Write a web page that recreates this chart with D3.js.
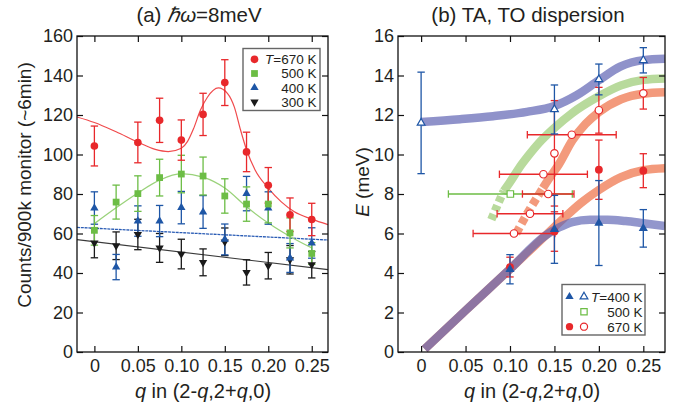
<!DOCTYPE html>
<html>
<head>
<meta charset="utf-8">
<script src="https://cdn.jsdelivr.net/npm/d3@7"></script>
<style>
  body { margin: 0; background: #fff; }
  svg text { font-family: "Liberation Sans", Arial, Helvetica, sans-serif; fill: #231f20; }
</style>
</head>
<body>
<svg id="chart" width="679" height="407"></svg>
<script>
/* global d3 */

// ---------- panel (a): constant energy scan, hw = 8 meV ----------
const qTicks = [0, 0.05, 0.10, 0.15, 0.20, 0.25];
const countTicks = [0, 20, 40, 60, 80, 100, 120, 140, 160];

const q670 = [0, 0.05, 0.075, 0.10, 0.125, 0.15, 0.175, 0.20, 0.225, 0.25];
const c670 = [104.3, 106.1, 117.3, 107.3, 120.3, 136.4, 101.3, 84.4, 69.5, 67.1];
const e670 = [10.1, 10.3, 11.2, 10.2, 10.7, 11.6, 10.0, 9.0, 8.5, 8.2];

const qAll = [0, 0.025, 0.05, 0.075, 0.10, 0.125, 0.15, 0.175, 0.20, 0.225, 0.25];
const c500 = [61.6, 75.9, 80.2, 88.3, 90.1, 89.1, 79.0, 74.9, 74.9, 60.3, 49.9];
const e500 = [7.5, 8.6, 9.0, 9.3, 9.5, 9.6, 8.7, 8.7, 9.5, 7.6, 5.5];
const c400 = [72.9, 43.0, 66.3, 66.3, 73.1, 70.9, 57.0, 80.2, 72.9, 47.6, 55.2];
const e400 = [8.2, 6.4, 7.7, 7.9, 8.2, 8.3, 7.8, 8.7, 8.2, 7.3, 7.7];
const c300 = [55.2, 53.8, 59.5, 52.7, 49.6, 45.4, 55.8, 40.3, 43.7, 46.7, 44.2];
const e300 = [7.5, 7.0, 7.7, 7.3, 7.5, 6.8, 7.0, 6.4, 6.7, 7.2, 6.7];

// fitted curves as [q, counts]
const fit670 = [[-0.02, 119], [0, 116.2], [0.025, 111.5], [0.05, 106.3], [0.07, 102.6], [0.085, 101.5],
  [0.1, 103.2], [0.107, 106.5], [0.114, 113], [0.122, 122.5], [0.13, 129], [0.1425, 133.7], [0.153, 131],
  [0.161, 124], [0.168, 112.6], [0.175, 102.4], [0.185, 92], [0.2, 83], [0.215, 76], [0.23, 71],
  [0.25, 67.3], [0.2687, 64.5]];
const fit500 = [[0, 65], [0.025, 73], [0.05, 80.5], [0.075, 87], [0.1, 90.3], [0.125, 88.5], [0.15, 83],
  [0.175, 73.5], [0.2, 65.3], [0.225, 58.5], [0.25, 52.7]];
const fit400 = [[-0.02, 63.1], [0.2687, 56.7]];
const fit300 = [[-0.02, 56.9], [0.2687, 41.7]];

// ---------- panel (b): TA / TO dispersion ----------
const eTicks = [0, 2, 4, 6, 8, 10, 12, 14, 16];

// constant-q points (vertical error bars)
const qTA400 = [0.10, 0.15, 0.20, 0.25];
const eTA400 = [4.19, 6.21, 6.53, 6.26];
const dTA400 = [0.74, 1.72, 2.15, 0.95];
const qTO400 = [0, 0.15, 0.20, 0.25];
const eTO400 = [11.6, 12.28, 13.8, 14.77];
const dTO400 = [2.57, 1.24, 0.78, 0.64];
const qTA670 = [0.10, 0.15, 0.20, 0.25];
const eTA670 = [4.3, 6.1, 9.23, 9.18];
const dTA670 = [0.5, 1.0, 1.5, 0.86];
const qTO670 = [0.15, 0.20, 0.25];
const eTO670 = [10.06, 12.24, 13.1];
const dTO670 = [2.67, 1.16, 0.8];

// constant-E points (horizontal error bars)
const qScan670 = [0.1045, 0.1225, 0.143, 0.1376, 0.1695];
const eScan670 = [6, 7, 8, 9, 11];
const dqScan670 = [0.046, 0.037, 0.029, 0.0495, 0.05];
const qScan500 = [0.1004];
const eScan500 = [8];
const dqScan500 = [0.0697];

// guide-to-the-eye bands, [q, E]
const bandTO400 = [[0, 11.65], [0.044, 11.79], [0.081, 11.94], [0.119, 12.16], [0.15, 12.46], [0.175, 13.0],
  [0.2, 13.76], [0.224, 14.45], [0.25, 14.78], [0.2744, 14.85]];
const bandTO500 = [[0.093, 8.15], [0.1, 8.6], [0.11, 9.3], [0.12, 9.9], [0.135, 10.7], [0.15, 11.35],
  [0.17, 12.1], [0.2, 12.95], [0.225, 13.5], [0.25, 13.78], [0.2744, 13.85]];
const bandTO500dash = [[0.079, 6.7], [0.086, 7.45], [0.093, 8.15]];
const bandTO670 = [[0.137, 8.3], [0.145, 8.85], [0.155, 9.5], [0.17, 10.7], [0.185, 11.55], [0.2, 12.15],
  [0.225, 12.8], [0.25, 13.08], [0.2744, 13.15]];
const bandTO670dash = [[0.107, 6.0], [0.118, 6.9], [0.128, 7.65], [0.137, 8.3]];
const bandTA670 = [[0.004, 0.15], [0.05, 2.1], [0.1, 4.2], [0.14, 5.9], [0.16, 6.75], [0.18, 7.55],
  [0.2, 8.2], [0.225, 8.85], [0.25, 9.2], [0.2744, 9.3]];
const bandTA400 = [[0.004, 0.15], [0.05, 2.1], [0.1, 4.2], [0.14, 5.9], [0.155, 6.3], [0.17, 6.58],
  [0.19, 6.7], [0.21, 6.7], [0.23, 6.63], [0.25, 6.52], [0.2744, 6.38]];

const RED = '#e8282b', GREEN = '#6cbd45', BLUE = '#1e56a6', BLACK = '#1a1a1a';

const svg = d3.select('#chart');

function fmtQ(d) {
  return d === 0 ? '0' : d.toFixed(2);
}

function drawFrame(box, x, y, xt, yt) {
  const g = svg.append('g');
  g.append('g').attr('transform', `translate(0,${box.b})`)
    .call(d3.axisBottom(x).tickValues(xt).tickSizeInner(-6).tickSizeOuter(0).tickPadding(7).tickFormat(fmtQ));
  g.append('g').attr('transform', `translate(0,${box.t})`)
    .call(d3.axisTop(x).tickValues(xt).tickSizeInner(-6).tickSizeOuter(0).tickFormat(''));
  g.append('g').attr('transform', `translate(${box.l},0)`)
    .call(d3.axisLeft(y).tickValues(yt).tickSizeInner(-6).tickSizeOuter(0).tickPadding(4));
  g.append('g').attr('transform', `translate(${box.r},0)`)
    .call(d3.axisRight(y).tickValues(yt).tickSizeInner(-6).tickSizeOuter(0).tickFormat(''));
  g.selectAll('.domain').remove();
  g.selectAll('.tick line').attr('stroke', '#111').attr('stroke-width', 1.2);
  g.selectAll('.tick text').attr('font-size', 18).attr('fill', '#231f20');
  g.append('rect')
    .attr('x', box.l).attr('y', box.t)
    .attr('width', box.r - box.l).attr('height', box.b - box.t)
    .attr('fill', 'none').attr('stroke', '#111').attr('stroke-width', 1.3);
}

function vErr(g, x, y, qs, vs, es, color, cap) {
  qs.forEach((q, i) => {
    const xx = x(q), y1 = y(vs[i] + es[i]), y2 = y(vs[i] - es[i]);
    g.append('line').attr('x1', xx).attr('x2', xx).attr('y1', y1).attr('y2', y2);
    g.append('line').attr('x1', xx - cap).attr('x2', xx + cap).attr('y1', y1).attr('y2', y1);
    g.append('line').attr('x1', xx - cap).attr('x2', xx + cap).attr('y1', y2).attr('y2', y2);
  });
  g.attr('stroke', color).attr('stroke-width', 1.3);
}

function hErr(g, x, y, qs, vs, ds, color, cap) {
  qs.forEach((q, i) => {
    const yy = y(vs[i]), x1 = x(q - ds[i]), x2 = x(q + ds[i]);
    g.append('line').attr('x1', x1).attr('x2', x2).attr('y1', yy).attr('y2', yy);
    g.append('line').attr('x1', x1).attr('x2', x1).attr('y1', yy - cap).attr('y2', yy + cap);
    g.append('line').attr('x1', x2).attr('x2', x2).attr('y1', yy - cap).attr('y2', yy + cap);
  });
  g.attr('stroke', color).attr('stroke-width', 1.3);
}

function markers(g, x, y, qs, vs, type, size, fill, stroke, rot) {
  const sym = d3.symbol().type(type).size(size);
  g.selectAll(null).data(qs).join('path')
    .attr('d', sym)
    .attr('transform', (q, i) => `translate(${x(q)},${y(vs[i])}) rotate(${rot || 0})`)
    .attr('fill', fill)
    .attr('stroke', stroke || 'none')
    .attr('stroke-width', stroke ? 1.2 : 0);
}

// ================= panel (a) =================
const boxA = { l: 77, r: 328, t: 36, b: 352 };
const xA = d3.scaleLinear().domain([-0.02, 0.2687]).range([boxA.l, boxA.r]);
const yA = d3.scaleLinear().domain([0, 160]).range([boxA.b, boxA.t]);

const lineA = d3.line().x(d => xA(d[0])).y(d => yA(d[1])).curve(d3.curveMonotoneX);
const fitsA = svg.append('g').attr('fill', 'none');
fitsA.append('path').attr('d', lineA(fit300)).attr('stroke', '#3a3a3a').attr('stroke-width', 1.1);
fitsA.append('path').attr('d', lineA(fit400)).attr('stroke', '#2a5cb5').attr('stroke-width', 1.3)
  .attr('stroke-dasharray', '3,0.8');
fitsA.append('path').attr('d', lineA(fit500)).attr('stroke', '#9ad27a').attr('stroke-width', 1.3);
fitsA.append('path').attr('d', lineA(fit670)).attr('stroke', '#f04a4c').attr('stroke-width', 1.2);

vErr(svg.append('g'), xA, yA, qAll, c300, e300, BLACK, 3.7);
vErr(svg.append('g'), xA, yA, qAll, c400, e400, BLUE, 3.7);
vErr(svg.append('g'), xA, yA, qAll, c500, e500, GREEN, 3.7);
vErr(svg.append('g'), xA, yA, q670, c670, e670, RED, 3.7);

markers(svg.append('g'), xA, yA, qAll, c300, d3.symbolTriangle, 30, BLACK, null, 180);
markers(svg.append('g'), xA, yA, qAll, c400, d3.symbolTriangle, 30, BLUE);
markers(svg.append('g'), xA, yA, qAll, c500, d3.symbolSquare, 46, GREEN);
markers(svg.append('g'), xA, yA, q670, c670, d3.symbolCircle, 46, RED);

drawFrame(boxA, xA, yA, qTicks, countTicks);

// legend (a)
const legA = svg.append('g');
legA.append('rect').attr('x', 243).attr('y', 48.5).attr('width', 77).attr('height', 62)
  .attr('fill', '#fff').attr('stroke', '#666').attr('stroke-width', 1.4);
const legARows = [
  { label: '670 K', italic: true, type: d3.symbolCircle, size: 46, color: RED, rot: 0 },
  { label: '500 K', type: d3.symbolSquare, size: 46, color: GREEN, rot: 0 },
  { label: '400 K', type: d3.symbolTriangle, size: 30, color: BLUE, rot: 0 },
  { label: '300 K', type: d3.symbolTriangle, size: 30, color: BLACK, rot: 180 },
];
legARows.forEach((r, i) => {
  const cy = 59.3 + i * 14.2;
  legA.append('path').attr('d', d3.symbol().type(r.type).size(r.size))
    .attr('transform', `translate(254.5,${cy}) rotate(${r.rot})`).attr('fill', r.color);
  const t = legA.append('text').attr('x', 316.5).attr('y', cy + 4.8)
    .attr('text-anchor', 'end').attr('font-size', 13.5);
  if (r.italic) {
    t.append('tspan').attr('font-style', 'italic').text('T');
    t.append('tspan').text('=' + r.label);
  } else {
    t.text(r.label);
  }
});

// title / labels (a)
const titleA = svg.append('text').attr('x', 199).attr('y', 22).attr('text-anchor', 'middle').attr('font-size', 20.5);
titleA.append('tspan').text('(a) ');
titleA.append('tspan').attr('font-style', 'italic').text('ℏω');
titleA.append('tspan').text('=8meV');

svg.append('text').attr('transform', 'translate(31,185) rotate(-90)')
  .attr('text-anchor', 'middle').attr('font-size', 19).text('Counts/900k monitor (~6min)');

function qLabel(cx) {
  const t = svg.append('text').attr('x', cx).attr('y', 398).attr('text-anchor', 'middle').attr('font-size', 20);
  t.append('tspan').attr('font-style', 'italic').text('q');
  t.append('tspan').text(' in (2-');
  t.append('tspan').attr('font-style', 'italic').text('q');
  t.append('tspan').text(',2+');
  t.append('tspan').attr('font-style', 'italic').text('q');
  t.append('tspan').text(',0)');
}
qLabel(203);

// ================= panel (b) =================
const boxB = { l: 398, r: 665, t: 36, b: 352 };
const xB = d3.scaleLinear().domain([-0.026, 0.2744]).range([boxB.l, boxB.r]);
const yB = d3.scaleLinear().domain([0, 16]).range([boxB.b, boxB.t]);

svg.append('clipPath').attr('id', 'clipB').append('rect')
  .attr('x', boxB.l).attr('y', boxB.t).attr('width', boxB.r - boxB.l).attr('height', boxB.b - boxB.t);

const lineB = d3.line().x(d => xB(d[0])).y(d => yB(d[1])).curve(d3.curveMonotoneX);
const bands = svg.append('g').attr('clip-path', 'url(#clipB)').attr('fill', 'none').attr('stroke-width', 8.5);
function band(data, color, opacity, dash) {
  const p = bands.append('path').attr('d', lineB(data)).attr('stroke', color).attr('stroke-opacity', opacity);
  if (dash) p.attr('stroke-dasharray', dash);
  return p;
}
band(bandTO500dash, '#b8da9c', 1, '6,3.5');
band(bandTO500, '#b8da9c', 1);
band(bandTO670dash, '#f39a7c', 1, '7,4');
band(bandTO670, '#f39a7c', 1);
band(bandTA670, '#f39a7c', 1);
band(bandTO400, '#5f64b4', 0.7);
band(bandTA400, '#5f64b4', 0.68);

hErr(svg.append('g'), xB, yB, qScan500, eScan500, dqScan500, GREEN, 3.7);
hErr(svg.append('g'), xB, yB, qScan670, eScan670, dqScan670, RED, 3.7);
vErr(svg.append('g'), xB, yB, qTA670, eTA670, dTA670, RED, 3.7);
vErr(svg.append('g'), xB, yB, qTO670, eTO670, dTO670, RED, 3.7);
vErr(svg.append('g'), xB, yB, qTA400, eTA400, dTA400, BLUE, 3.7);
vErr(svg.append('g'), xB, yB, qTO400, eTO400, dTO400, BLUE, 3.7);

markers(svg.append('g'), xB, yB, qScan500, eScan500, d3.symbolSquare, 42, '#fff', GREEN);
markers(svg.append('g'), xB, yB, qScan670, eScan670, d3.symbolCircle, 44, '#fff', RED);
markers(svg.append('g'), xB, yB, qTO670, eTO670, d3.symbolCircle, 44, '#fff', RED);
markers(svg.append('g'), xB, yB, qTA670, eTA670, d3.symbolCircle, 48, RED);
markers(svg.append('g'), xB, yB, qTO400, eTO400, d3.symbolTriangle, 26, '#fff', BLUE);
markers(svg.append('g'), xB, yB, qTA400, eTA400, d3.symbolTriangle, 36, BLUE);

drawFrame(boxB, xB, yB, qTicks, eTicks);

// legend (b)
const legB = svg.append('g');
legB.append('rect').attr('x', 562).attr('y', 284.5).attr('width', 83).attr('height', 50.5)
  .attr('fill', '#fff').attr('stroke', '#666').attr('stroke-width', 1.4);
const legBRows = [
  { label: '400 K', italic: true, filled: [d3.symbolTriangle, 30, BLUE], open: [d3.symbolTriangle, 26, BLUE] },
  { label: '500 K', filled: null, open: [d3.symbolSquare, 40, GREEN] },
  { label: '670 K', filled: [d3.symbolCircle, 42, RED], open: [d3.symbolCircle, 40, RED] },
];
legBRows.forEach((r, i) => {
  const cy = 296.7 + i * 15;
  if (r.filled) {
    legB.append('path').attr('d', d3.symbol().type(r.filled[0]).size(r.filled[1]))
      .attr('transform', `translate(569.5,${cy})`).attr('fill', r.filled[2]);
  }
  legB.append('path').attr('d', d3.symbol().type(r.open[0]).size(r.open[1]))
    .attr('transform', `translate(584,${cy})`).attr('fill', '#fff')
    .attr('stroke', r.open[2]).attr('stroke-width', 1.2);
  const t = legB.append('text').attr('x', 642.5).attr('y', cy + 4.8)
    .attr('text-anchor', 'end').attr('font-size', 13.5);
  if (r.italic) {
    t.append('tspan').attr('font-style', 'italic').text('T');
    t.append('tspan').text('=' + r.label);
  } else {
    t.text(r.label);
  }
});

svg.append('text').attr('x', 528).attr('y', 22).attr('text-anchor', 'middle').attr('font-size', 20.5)
  .text('(b) TA, TO dispersion');

const eLab = svg.append('text').attr('transform', 'translate(369,182) rotate(-90)')
  .attr('text-anchor', 'middle').attr('font-size', 19);
eLab.append('tspan').attr('font-style', 'italic').text('E');
eLab.append('tspan').text(' (meV)');

qLabel(532);
</script>
</body>
</html>
